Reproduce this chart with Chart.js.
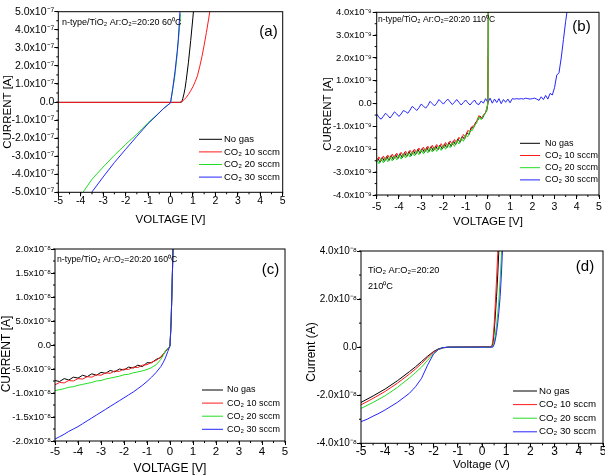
<!DOCTYPE html>
<html>
<head>
<meta charset="utf-8">
<script src="https://cdn.jsdelivr.net/npm/chart.js@4.4.1/dist/chart.umd.min.js"></script>
<style>
  html, body { margin: 0; padding: 0; background: #fff; }
  #wrap { position: relative; width: 605px; height: 476px; overflow: hidden; }
  canvas { position: absolute; }
</style>
</head>
<body>
<div id="wrap">
  <canvas id="chartA" width="300" height="235" style="left:0;top:0"></canvas>
  <canvas id="chartB" width="305" height="235" style="left:300px;top:0"></canvas>
  <canvas id="chartC" width="300" height="241" style="left:0;top:235px"></canvas>
  <canvas id="chartD" width="305" height="241" style="left:300px;top:235px"></canvas>
</div>
<script>
// series shared by all four panels
const seriesLabels = ['No gas', 'CO₂ 10 sccm', 'CO₂ 20 sccm', 'CO₂ 30 sccm'];
const seriesColors = ['#000000', '#ff1a1a', '#22dd22', '#2424ff'];
const xTicks = [-5, -4, -3, -2, -1, 0, 1, 2, 3, 4, 5];

// (a) 60 C, current in units of 1e-7 A
const voltA_noGas = [-5.0, 0.0, 0.4, 0.5, 0.55, 0.6, 0.65, 0.7, 0.8, 0.9, 1.0, 1.05];
const currA_noGas = [-0.02, -0.02, -0.02, 0.0, 0.2, 0.45, 0.76, 1.2, 2.2, 3.4, 4.7, 5.4];
const voltA_co10 = [-5.0, 0.0, 0.4, 0.5, 0.6, 0.7, 0.8, 0.9, 1.0, 1.1, 1.2, 1.3, 1.4, 1.5, 1.6, 1.7, 1.8];
const currA_co10 = [-0.02, -0.02, -0.02, 0.02, 0.12, 0.25, 0.42, 0.62, 0.85, 1.12, 1.45, 1.95, 2.5, 3.15, 3.85, 4.6, 5.4];
const voltA_co20 = [-4.0, -3.9, -3.5, -3.0, -2.5, -2.0, -1.5, -1.0, -0.6, -0.3, 0.0, 0.1, 0.2, 0.3, 0.4, 0.45];
const currA_co20 = [-5.15, -5.0, -4.28, -3.6, -2.95, -2.35, -1.78, -1.15, -0.7, -0.35, -0.05, 0.7, 1.5, 2.7, 4.1, 4.9];
const voltA_co30 = [-3.6, -3.5, -3.0, -2.5, -2.0, -1.5, -1.0, -0.6, -0.3, 0.0, 0.1, 0.2, 0.3, 0.35, 0.42, 0.45];
const currA_co30 = [-5.15, -4.98, -4.15, -3.35, -2.62, -1.9, -1.2, -0.72, -0.35, -0.05, 0.75, 1.68, 2.8, 3.5, 5.0, 5.4];

// (b) 110 C, current in units of 1e-9 A
const voltB_noGas = [-4.95, -4.85, -4.75, -4.65, -4.55, -4.45, -4.35, -4.25, -4.15, -4.05,
  -3.95, -3.85, -3.75, -3.65, -3.55, -3.45, -3.35, -3.25, -3.15, -3.05,
  -2.95, -2.85, -2.75, -2.65, -2.55, -2.45, -2.35, -2.25, -2.15, -2.05,
  -1.95, -1.85, -1.75, -1.65, -1.55, -1.45, -1.35, -1.25, -1.15, -1.05,
  -0.95, -0.85, -0.75, -0.65, -0.55, -0.45, -0.35, -0.25, -0.15, -0.05, 0.0, 0.02];
const currB_noGas = [-2.39, -2.57, -2.35, -2.53, -2.31, -2.49, -2.27, -2.45, -2.23, -2.41,
  -2.19, -2.37, -2.14, -2.32, -2.10, -2.28, -2.05, -2.23, -2.00, -2.18,
  -1.96, -2.14, -1.92, -2.10, -1.88, -2.07, -1.85, -2.03, -1.81, -1.99,
  -1.76, -1.94, -1.70, -1.87, -1.63, -1.80, -1.54, -1.69, -1.43, -1.56,
  -1.27, -1.36, -1.04, -1.07, -0.82, -0.72, -0.55, -0.65, -0.46, -0.30, 0.0, 4.5];
const voltB_co = [-5.0, -4.9, -4.8, -4.7, -4.6, -4.5, -4.4, -4.3, -4.2, -4.1,
  -4.0, -3.9, -3.8, -3.7, -3.6, -3.5, -3.4, -3.3, -3.2, -3.1,
  -3.0, -2.9, -2.8, -2.7, -2.6, -2.5, -2.4, -2.3, -2.2, -2.1,
  -2.0, -1.9, -1.8, -1.7, -1.6, -1.5, -1.4, -1.3, -1.2, -1.1,
  -1.0, -0.9, -0.8, -0.7, -0.6, -0.5, -0.4, -0.3, -0.2, -0.1, 0.0, 0.01, 0.02];
const currB_co10 = [-2.55, -2.33, -2.51, -2.29, -2.47, -2.25, -2.43, -2.21, -2.39, -2.17,
  -2.35, -2.13, -2.30, -2.08, -2.26, -2.04, -2.21, -1.99, -2.17, -1.94,
  -2.12, -1.90, -2.08, -1.86, -2.04, -1.82, -2.01, -1.79, -1.97, -1.75,
  -1.93, -1.70, -1.87, -1.63, -1.80, -1.57, -1.72, -1.47, -1.61, -1.35,
  -1.47, -1.17, -1.25, -0.98, -0.98, -0.75, -0.52, -0.66, -0.50, -0.38, 0.0, 2.0, 4.5];
const currB_co20 = [-2.45, -2.63, -2.41, -2.59, -2.37, -2.55, -2.33, -2.51, -2.29, -2.47,
  -2.25, -2.43, -2.20, -2.38, -2.16, -2.34, -2.11, -2.29, -2.07, -2.24,
  -2.02, -2.20, -1.98, -2.16, -1.94, -2.12, -1.91, -2.09, -1.87, -2.05,
  -1.83, -2.00, -1.77, -1.93, -1.70, -1.87, -1.62, -1.77, -1.51, -1.65,
  -1.37, -1.45, -1.17, -1.18, -0.95, -0.85, -0.57, -0.70, -0.52, -0.40, 0.0, 2.0, 4.5];
const voltB_co30 = [-5.0, -4.9, -4.8, -4.7, -4.6, -4.5, -4.4, -4.3, -4.2, -4.1,
  -4.0, -3.9, -3.8, -3.7, -3.6, -3.5, -3.4, -3.3, -3.2, -3.1,
  -3.0, -2.9, -2.8, -2.7, -2.6, -2.5, -2.4, -2.3, -2.2, -2.1,
  -2.0, -1.9, -1.8, -1.7, -1.6, -1.5, -1.4, -1.3, -1.2, -1.1,
  -1.0, -0.9, -0.8, -0.7, -0.6, -0.5, -0.4, -0.3, -0.2, -0.1,
  0.0, 0.1, 0.2, 0.3, 0.4, 0.5, 0.6, 0.7, 0.8, 0.9,
  1.0, 1.1, 1.2, 1.3, 1.4, 1.5, 1.6, 1.7, 1.8, 1.9,
  2.0, 2.1, 2.2, 2.3, 2.4, 2.5, 2.6, 2.7, 2.8, 2.9,
  3.0, 3.1, 3.2, 3.3, 3.4, 3.5, 3.6];
const currB_co30 = [-0.45, -0.60, -0.68, -0.55, -0.42, -0.52, -0.63, -0.50, -0.36, -0.45,
  -0.56, -0.45, -0.30, -0.35, -0.42, -0.28, -0.12, -0.20, -0.30, -0.18,
  -0.02, -0.10, -0.20, -0.08, 0.10, 0.00, -0.10, 0.02, 0.18, 0.08,
  -0.02, 0.10, 0.20, 0.08, -0.04, 0.06, 0.18, 0.06, -0.06, 0.05,
  0.16, 0.04, -0.06, 0.06, 0.16, 0.00, -0.04, 0.12, 0.02, 0.22,
  0.05, 0.24, 0.02, 0.20, 0.05, 0.22, 0.00, 0.18, 0.06, 0.20,
  0.04, 0.22, 0.20, 0.22, 0.20, 0.22, 0.20, 0.24, 0.22, 0.20,
  0.22, 0.24, 0.20, 0.14, 0.30, 0.18, 0.36, 0.20, 0.45, 0.38,
  0.70, 1.25, 1.35, 2.00, 2.80, 3.60, 4.30];

// (c) 160 C, current in units of 1e-8 A
const voltC_lo = [-5.0, -4.8, -4.6, -4.4, -4.2, -4.0, -3.8, -3.6, -3.4, -3.2, -3.0, -2.8, -2.6,
  -2.4, -2.2, -2.0, -1.8, -1.6, -1.4, -1.2, -1.0, -0.8, -0.6, -0.4, -0.2, 0.0, 0.05, 0.1, 0.14];
const currC_noGas = [-0.74, -0.76, -0.70, -0.73, -0.67, -0.69, -0.63, -0.66, -0.60, -0.63, -0.57, -0.59, -0.53,
  -0.56, -0.50, -0.52, -0.46, -0.48, -0.42, -0.45, -0.37, -0.37, -0.30, -0.26, -0.14, -0.02, 0.5, 1.4, 2.2];
const currC_co10 = [-0.83, -0.78, -0.79, -0.74, -0.75, -0.70, -0.71, -0.66, -0.67, -0.62, -0.63, -0.58, -0.59,
  -0.54, -0.55, -0.50, -0.51, -0.46, -0.47, -0.42, -0.41, -0.36, -0.32, -0.25, -0.13, -0.02, 0.5, 1.4, 2.2];
const voltC_hi = [-5.0, -4.8, -4.6, -4.4, -4.2, -4.0, -3.8, -3.6, -3.4, -3.2, -3.0, -2.8, -2.6,
  -2.4, -2.2, -2.0, -1.8, -1.6, -1.4, -1.2, -1.0, -0.8, -0.6, -0.4, -0.3, -0.2, -0.1, 0.0, 0.05, 0.1, 0.14];
const currC_co20 = [-0.95, -0.93, -0.91, -0.88, -0.87, -0.84, -0.82, -0.80, -0.78, -0.75, -0.74, -0.71, -0.69,
  -0.67, -0.65, -0.62, -0.61, -0.58, -0.56, -0.54, -0.51, -0.47, -0.41, -0.30, -0.22, -0.12, -0.08, -0.02, 0.5, 1.4, 2.2];
const currC_co30 = [-1.96, -1.91, -1.86, -1.80, -1.75, -1.70, -1.64, -1.58, -1.52, -1.46, -1.40, -1.34, -1.28,
  -1.22, -1.16, -1.10, -1.04, -0.98, -0.91, -0.84, -0.76, -0.67, -0.57, -0.45, -0.37, -0.27, -0.14, -0.02, 0.5, 1.4, 2.2];

// (d) 210 C, current in units of 1e-8 A
const voltD_lo = [-5.0, -4.5, -4.0, -3.5, -3.0, -2.75, -2.5, -2.25, -2.0, -1.8, -1.6, -1.4, 0.4, 0.45, 0.5, 0.55, 0.6, 0.65, 0.7];
const currD_noGas = [-2.30, -2.03, -1.74, -1.40, -1.02, -0.82, -0.60, -0.38, -0.18, -0.07, -0.02, 0.0, 0.02, 0.15, 0.6, 1.3, 2.1, 3.0, 4.1];
const currD_co10 = [-2.40, -2.13, -1.84, -1.50, -1.12, -0.91, -0.68, -0.44, -0.21, -0.09, -0.03, 0.0, 0.02, 0.25, 0.9, 1.8, 2.8, 3.9, 5.0];
const voltD_co20 = [-5.0, -4.5, -4.0, -3.5, -3.0, -2.75, -2.5, -2.25, -2.0, -1.8, -1.6, -1.4, 0.4, 0.45, 0.5, 0.55, 0.6, 0.65, 0.7, 0.75, 0.8, 0.85];
const currD_co20 = [-2.55, -2.30, -2.02, -1.68, -1.28, -1.06, -0.83, -0.55, -0.27, -0.10, -0.03, 0.0, 0.0, 0.05, 0.2, 0.5, 0.9, 1.4, 2.0, 2.8, 3.8, 4.8];
const voltD_co30 = [-5.0, -4.75, -4.5, -4.25, -4.0, -3.5, -3.0, -2.75, -2.5, -2.25, -2.0, -1.8, -1.6, -1.4, 0.4, 0.45, 0.5, 0.55, 0.6, 0.65, 0.7, 0.75, 0.8, 0.85];
const currD_co30 = [-3.10, -3.00, -2.87, -2.75, -2.61, -2.30, -1.92, -1.65, -1.30, -0.75, -0.28, -0.09, -0.02, 0.0, 0.0, 0.0, 0.1, 0.3, 0.6, 1.0, 1.5, 2.1, 3.0, 4.1];

const sans = "'Liberation Sans', Arial, sans-serif";
const narrow = "'Liberation Sans Narrow', 'Liberation Sans', sans-serif";
const sup = {'-': '⁻', '0': '⁰', '1': '¹', '2': '²', '3': '³', '4': '⁴', '5': '⁵', '6': '⁶', '7': '⁷', '8': '⁸', '9': '⁹'};

function sci(m, exp) {
    return m.toFixed(1) + 'x10' + String(exp).split('').map(c => sup[c]).join('');
}

// frame, minor ticks, titles and the legend box inside the plot
const panelDecor = {
    id: 'panelDecor',
    afterDraw(chart, args, o) {
        const {ctx, chartArea: a} = chart;
        const x = chart.scales.x, y = chart.scales.y;
        ctx.save();
        ctx.strokeStyle = '#000';
        ctx.lineWidth = 1;
        ctx.strokeRect(a.left, a.top, a.right - a.left, a.bottom - a.top);
        ctx.beginPath();
        for (let v = x.min; v <= x.max + 1e-9; v += o.xMinor) {
            const px = x.getPixelForValue(v);
            ctx.moveTo(px, a.bottom);
            ctx.lineTo(px, a.bottom + 2);
        }
        for (let v = y.min; v <= y.max + 1e-9; v += o.yMinor) {
            const py = y.getPixelForValue(v);
            ctx.moveTo(a.left, py);
            ctx.lineTo(a.left - 2, py);
        }
        ctx.stroke();

        ctx.fillStyle = '#000';
        ctx.textBaseline = 'middle';
        o.texts.forEach(t => {
            ctx.save();
            ctx.font = t.size + 'px ' + (t.family || sans);
            ctx.textAlign = t.align || 'left';
            ctx.translate(t.x, t.y);
            if (t.rot) ctx.rotate(t.rot * Math.PI / 180);
            ctx.fillText(t.text, 0, 0);
            ctx.restore();
        });

        const L = o.legend;
        ctx.font = L.size + 'px ' + sans;
        ctx.textAlign = 'left';
        chart.data.datasets.forEach((ds, i) => {
            const yy = L.y + i * L.step;
            ctx.strokeStyle = ds.borderColor;
            ctx.beginPath();
            ctx.moveTo(L.x0, yy);
            ctx.lineTo(L.x1, yy);
            ctx.stroke();
            ctx.fillText(ds.label, L.tx, yy);
        });
        ctx.restore();
    }
};

function makePanel(id, p) {
    const datasets = p.series.map((s, i) => ({
        label: seriesLabels[i],
        data: s[0].map((v, k) => ({x: v, y: s[1][k]})),
        borderColor: seriesColors[i],
        backgroundColor: seriesColors[i],
        borderWidth: 1,
        pointRadius: 0,
        tension: 0,
        order: p.order[i]
    }));
    new Chart(document.getElementById(id), {
        type: 'line',
        data: {datasets: datasets},
        options: {
            responsive: false,
            animation: false,
            devicePixelRatio: 1,
            layout: {padding: {left: 0, top: p.top, right: p.right, bottom: 0}},
            plugins: {
                legend: {display: false},
                tooltip: {enabled: false},
                panelDecor: {xMinor: 0.5, yMinor: p.yMinor, texts: p.texts, legend: p.legend}
            },
            scales: {
                x: {
                    type: 'linear', min: -5, max: 5,
                    afterBuildTicks: s => { s.ticks = xTicks.map(v => ({value: v})); },
                    ticks: {color: '#000', padding: p.xPad, autoSkip: false, maxRotation: 0,
                        font: {family: sans, size: p.xFont}, callback: v => String(v)},
                    grid: {display: true, drawOnChartArea: false, drawTicks: true, tickLength: 4, tickColor: '#000'},
                    border: {display: false},
                    afterFit: s => { s.height = p.xh; }
                },
                y: {
                    type: 'linear', min: p.yMin, max: p.yMax,
                    ticks: {color: '#000', padding: p.yPad, stepSize: p.yStep, autoSkip: false,
                        font: {family: p.yFamily || sans, size: p.yFont}, callback: p.yLabel},
                    grid: {display: true, drawOnChartArea: false, drawTicks: true, tickLength: 4, tickColor: '#000'},
                    border: {display: false},
                    afterFit: s => { s.width = p.yw; }
                }
            }
        },
        plugins: [panelDecor]
    });
}

makePanel('chartA', {
    series: [[voltA_noGas, currA_noGas], [voltA_co10, currA_co10], [voltA_co20, currA_co20], [voltA_co30, currA_co30]],
    order: [3, 2, 1, 0],
    top: 11.7, right: 17.3, yw: 58.3, xh: 42.7,
    yMin: -5, yMax: 5, yStep: 1, yMinor: 0.5,
    yLabel: v => v === 0 ? '0.0' : sci(v, -7),
    yFont: 10.5, yPad: 0, xFont: 10.5, xPad: -1,
    texts: [
        {text: 'CURRENT [A]', x: 8, y: 112, size: 11.5, rot: -90, align: 'center'},
        {text: 'VOLTAGE [V]', x: 170.5, y: 220, size: 11.5, align: 'center'},
        {text: 'n-type/TiO₂ Ar:O₂=20:20 60⁰C', x: 62, y: 23, size: 9},
        {text: '(a)', x: 268.5, y: 32, size: 15, align: 'center'}
    ],
    legend: {x0: 199, x1: 222, tx: 224, y: 139.3, step: 12.6, size: 9.5}
});

makePanel('chartB', {
    series: [[voltB_noGas, currB_noGas], [voltB_co, currB_co10], [voltB_co, currB_co20], [voltB_co30, currB_co30]],
    order: [2, 1, 0, 3],
    top: 12.3, right: 6, yw: 76.7, xh: 40,
    yMin: -4, yMax: 4, yStep: 1, yMinor: 0.5,
    yLabel: v => v === 0 ? '0.0' : sci(v, -9),
    yFont: 9.5, yPad: 1, xFont: 10.5, xPad: 1.4,
    texts: [
        {text: 'CURRENT [A]', x: 28, y: 114, size: 11.5, rot: -90, align: 'center'},
        {text: 'VOLTAGE [V]', x: 188, y: 221.7, size: 11.5, align: 'center'},
        {text: 'n-type/TiO₂ Ar:O₂=20:20 110⁰C', x: 78, y: 20, size: 8.5},
        {text: '(b)', x: 281.5, y: 27, size: 15, align: 'center'}
    ],
    legend: {x0: 220, x1: 240, tx: 245, y: 143.3, step: 12.2, size: 9}
});

makePanel('chartC', {
    series: [[voltC_lo, currC_noGas], [voltC_lo, currC_co10], [voltC_hi, currC_co20], [voltC_hi, currC_co30]],
    order: [3, 2, 1, 0],
    top: 14, right: 15, yw: 55, xh: 35,
    yMin: -2, yMax: 2, yStep: 0.5, yMinor: 0.25,
    yLabel: v => v === 0 ? '0.0' : (Math.abs(v) < 1 ? sci(v * 10, -9) : sci(v, -8)),
    yFont: 9.5, yPad: 0, xFont: 11.5, xPad: 0,
    texts: [
        {text: 'CURRENT [A]', x: 7, y: 119, size: 12, rot: -90, align: 'center'},
        {text: 'VOLTAGE [V]', x: 170, y: 234, size: 12, align: 'center'},
        {text: 'n-type/TiO₂ Ar:O₂=20:20 160⁰C', x: 57, y: 25, size: 8.7},
        {text: '(c)', x: 270.5, y: 35, size: 15, align: 'center'}
    ],
    legend: {x0: 202, x1: 223, tx: 227, y: 155, step: 13.1, size: 9}
});

makePanel('chartD', {
    series: [[voltD_lo, currD_noGas], [voltD_lo, currD_co10], [voltD_co20, currD_co20], [voltD_co30, currD_co30]],
    order: [3, 2, 1, 0],
    top: 16, right: 2, yw: 61, xh: 32.7,
    yMin: -4, yMax: 4, yStep: 2, yMinor: 1,
    yLabel: v => v === 0 ? '0.0' : sci(v, -8),
    yFamily: narrow, yFont: 10, yPad: 0, xFont: 12, xPad: -3,
    texts: [
        {text: 'Current (A)', x: 11.7, y: 117, size: 12, rot: -90, align: 'center'},
        {text: 'Voltage (V)', x: 181.5, y: 230, size: 11.5, align: 'center'},
        {text: 'TiO₂ Ar:O₂=20:20', x: 68, y: 35, size: 9.2},
        {text: '210⁰C', x: 68, y: 51.7, size: 9.2},
        {text: '(d)', x: 285, y: 31.7, size: 15, align: 'center'}
    ],
    legend: {x0: 213, x1: 237, tx: 239, y: 156, step: 13.6, size: 9.7}
});
</script>
</body>
</html>
